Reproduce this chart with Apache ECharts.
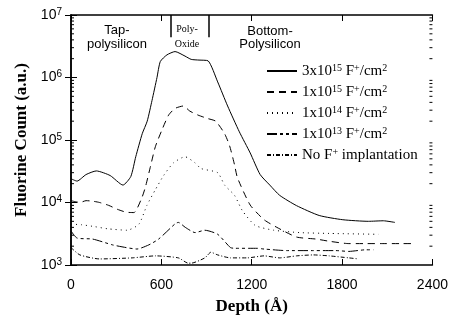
<!DOCTYPE html>
<html>
<head>
<meta charset="utf-8">
<script src="https://cdn.jsdelivr.net/npm/echarts@6/dist/echarts.min.js"></script>
<style>
  * { margin: 0; padding: 0; }
  body { background: #fff; }
</style>
</head>
<body>
<div id="main" style="width:451px;height:320px;"></div>
<script>
// depth (A) and fluorine count (a.u.)
var depth3e15 = [0, 40, 100, 168, 260, 345, 397, 430, 473, 506, 538, 571, 593, 637, 691, 757, 798, 850, 910, 974, 1040, 1118, 1190, 1256, 1320, 1386, 1498, 1648, 1805, 1975, 2074, 2151];
var count3e15 = [2.4e4, 2.2e4, 2.8e4, 3.2e4, 2.7e4, 1.9e4, 2.6e4, 5.4e4, 1.26e5, 2.0e5, 4.3e5, 1.0e6, 1.8e6, 2.3e6, 2.6e6, 2.2e6, 1.95e6, 1.9e6, 1.85e6, 8.5e5, 3.5e5, 1.35e5, 6.2e4, 2.8e4, 1.9e4, 1.3e4, 8.9e3, 6.2e3, 5.3e3, 5.0e3, 5.1e3, 4.8e3];

var depth1e15 = [0, 60, 100, 144, 190, 250, 307, 366, 418, 471, 495, 528, 560, 604, 648, 691, 746, 789, 844, 909, 961, 1020, 1053, 1086, 1105, 1190, 1282, 1367, 1498, 1628, 1714, 1845, 1956, 2066, 2197, 2290];
var count1e15 = [1.07e4, 1.0e4, 1.07e4, 1.05e4, 1.0e4, 9.0e3, 7.8e3, 7.0e3, 6.9e3, 1.2e4, 1.8e4, 3.8e4, 7.8e4, 1.45e5, 2.5e5, 3.2e5, 3.5e5, 2.9e5, 2.5e5, 2.2e5, 2.0e5, 1.26e5, 8.1e4, 4.0e4, 2.5e4, 9.1e3, 5.3e3, 4.0e3, 2.8e3, 2.6e3, 2.4e3, 2.2e3, 2.2e3, 2.2e3, 2.2e3, 2.2e3];

var depth1e14 = [0, 72, 160, 242, 373, 451, 504, 560, 615, 680, 757, 824, 863, 974, 1020, 1086, 1138, 1223, 1347, 1517, 1714, 2040];
var count1e14 = [4.5e3, 4.4e3, 4.1e3, 3.8e3, 3.6e3, 4.5e3, 9.0e3, 1.6e4, 2.7e4, 4.3e4, 5.4e4, 4.3e4, 3.5e4, 3.0e4, 1.9e4, 1.3e4, 7.4e3, 4.3e3, 3.6e3, 3.3e3, 3.2e3, 3.1e3];

var depth1e13 = [0, 40, 144, 275, 366, 438, 517, 582, 693, 713, 759, 824, 889, 974, 1059, 1092, 1236, 1282, 1432, 1609, 1759, 1845, 1956, 2008];
var count1e13 = [3.5e3, 2.7e3, 2.6e3, 2.1e3, 1.9e3, 1.8e3, 2.1e3, 2.6e3, 4.6e3, 4.8e3, 4.0e3, 3.3e3, 3.6e3, 3.1e3, 1.9e3, 1.85e3, 1.85e3, 1.8e3, 1.7e3, 1.7e3, 1.7e3, 1.65e3, 1.75e3, 1.75e3];

var depthNoF = [0, 59, 190, 406, 562, 713, 778, 798, 889, 929, 974, 1059, 1170, 1282, 1386, 1498, 1609, 1714, 1845, 1910];
var countNoF = [1.9e3, 1.45e3, 1.25e3, 1.3e3, 1.4e3, 1.3e3, 1.07e3, 1.07e3, 1.3e3, 1.6e3, 1.45e3, 1.3e3, 1.3e3, 1.4e3, 1.3e3, 1.4e3, 1.45e3, 1.4e3, 1.3e3, 1.25e3];

var seriesNames = ["3x10{sup|15} F{sup|+}/cm{sup|2}", "1x10{sup|15} F{sup|+}/cm{sup|2}", "1x10{sup|14} F{sup|+}/cm{sup|2}", "1x10{sup|13} F{sup|+}/cm{sup|2}", "No F{sup|+} implantation"];
var dashTypes = ["solid", [7, 5], [1, 4], [10, 3, 3, 3, 3, 3], [4, 2, 1, 2]];
var layerBounds = [660, 916];   // tap-poly / oxide / bottom-poly borders

function pairs(xs, ys) {
  var out = [];
  for (var i = 0; i < xs.length; i++) out.push([xs[i], ys[i]]);
  return out;
}
var allData = [
  pairs(depth3e15, count3e15),
  pairs(depth1e15, count1e15),
  pairs(depth1e14, count1e14),
  pairs(depth1e13, count1e13),
  pairs(depthNoF, countNoF)
];

// log minor ticks 2..9 in each decade
var minorTicks = [];
for (var e = 3; e < 7; e++) {
  for (var m = 2; m <= 9; m++) minorTicks.push([0, m * Math.pow(10, e)]);
}

var chart = echarts.init(document.getElementById("main"));
var black = "#000";
var series = [];
for (var i = 0; i < 5; i++) {
  series.push({
    name: seriesNames[i],
    type: "line",
    data: allData[i],
    symbol: "none",
    smooth: 0.2,
    lineStyle: { color: black, width: 1, type: dashTypes[i] },
    itemStyle: { color: black },
    z: 3
  });
}
series[0].markLine = {
  silent: true,
  symbol: "none",
  label: { show: false },
  lineStyle: { color: black, width: 1.5, type: "solid" },
  data: layerBounds.map(function (d) {
    return [{ coord: [d, 1e7] }, { coord: [d, 4.4e6] }];
  })
};
series.push({
  type: "custom",
  data: minorTicks,
  silent: true,
  renderItem: function (params, api) {
    var v = api.value(1);
    var l = api.coord([0, v]);
    var r = api.coord([2400, v]);
    return {
      type: "group",
      children: [
        { type: "line", shape: { x1: l[0], y1: l[1], x2: l[0] + 3, y2: l[1] }, style: { stroke: black, lineWidth: 1 } },
        { type: "line", shape: { x1: r[0], y1: r[1], x2: r[0] - 3, y2: r[1] }, style: { stroke: black, lineWidth: 1 } }
      ]
    };
  }
});

chart.setOption({
  animation: false,
  backgroundColor: "#fff",
  grid: { left: 71, right: 13, top: 15, bottom: 52 },
  legend: {
    data: seriesNames,
    orient: "vertical",
    left: 266,
    top: 63,
    padding: 0,
    itemWidth: 30,
    itemHeight: 12,
    itemGap: 5,
    selectedMode: false,
    itemStyle: { opacity: 0 },
    textStyle: {
      color: black,
      fontFamily: "Liberation Serif",
      fontSize: 15,
      lineHeight: 16,
      rich: {
        sup: { fontSize: 10, fontFamily: "Liberation Serif", verticalAlign: "top", lineHeight: 10 }
      }
    }
  },
  xAxis: [
    {
      type: "value",
      min: 0,
      max: 2400,
      interval: 600,
      name: "Depth (Å)",
      nameLocation: "middle",
      nameGap: 33,
      nameTextStyle: { color: black, fontFamily: "Liberation Serif", fontWeight: "bold", fontSize: 17 },
      axisLine: { lineStyle: { color: black, width: 1.5 } },
      axisTick: { inside: true, length: 6, lineStyle: { color: black } },
      axisLabel: { color: black, fontFamily: "Liberation Sans", fontSize: 14, margin: 13, formatter: function (v) { return String(v); } },
      splitLine: { show: false }
    },
    {
      type: "value",
      position: "top",
      min: 0,
      max: 2400,
      interval: 600,
      axisLine: { lineStyle: { color: black, width: 1.5 } },
      axisTick: { inside: true, length: 6, lineStyle: { color: black } },
      axisLabel: { show: false },
      splitLine: { show: false }
    }
  ],
  yAxis: [
    {
      type: "log",
      logBase: 10,
      min: 1e3,
      max: 1e7,
      name: "Fluorine Count (a.u.)",
      nameLocation: "middle",
      nameGap: 40,
      nameTextStyle: { color: black, fontFamily: "Liberation Serif", fontWeight: "bold", fontSize: 17 },
      axisLine: { show: true, lineStyle: { color: black, width: 1.5 } },
      axisTick: { inside: true, length: 6, lineStyle: { color: black } },
      axisLabel: {
        color: black,
        fontFamily: "Liberation Sans",
        fontSize: 14,
        margin: 9,
        lineHeight: 16,
        formatter: function (v) { return "10{sup|" + Math.round(Math.log10(v)) + "}"; },
        rich: { sup: { fontSize: 10, fontFamily: "Liberation Sans", verticalAlign: "top", lineHeight: 10 } }
      },
      splitLine: { show: false }
    },
    {
      type: "log",
      logBase: 10,
      min: 1e3,
      max: 1e7,
      position: "right",
      axisLine: { show: true, lineStyle: { color: black, width: 1.5 } },
      axisTick: { inside: true, length: 6, lineStyle: { color: black } },
      axisLabel: { show: false },
      splitLine: { show: false }
    }
  ],
  graphic: [
    { type: "text", x: 117, y: 23, style: { text: "Tap-\npolysilicon", textAlign: "center", font: "13px Liberation Sans", lineHeight: 14, fill: black } },
    { type: "text", x: 187, y: 22, style: { text: "Poly-\nOxide", textAlign: "center", font: "10px Liberation Sans Narrow", lineHeight: 15, fill: black } },
    { type: "text", x: 270, y: 25, style: { text: "Bottom-\nPolysilicon", textAlign: "center", font: "13px Liberation Sans", lineHeight: 13, fill: black } }
  ],
  series: series
});
</script>
</body>
</html>
